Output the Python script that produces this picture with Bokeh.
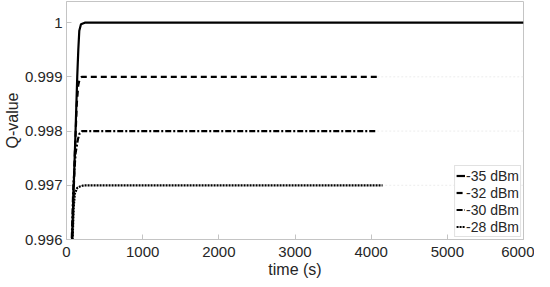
from bokeh.plotting import figure
from bokeh.models import Range1d, Legend, LegendItem, FixedTicker
from bokeh.embed import file_html
from bokeh.resources import INLINE

# ---- data ----
t_35 = [65, 73, 100, 119, 141, 155, 168, 190, 240, 6000]
q_35 = [0.99565, 0.996, 0.9972, 0.998, 0.999, 0.9995, 0.99985, 0.99997, 1.0, 1.0]

t_32 = [65, 80, 110, 135, 155, 175, 200, 4080]
q_32 = [0.9955, 0.9962, 0.9976, 0.9985, 0.99885, 0.99897, 0.999, 0.999]

t_30 = [65, 90, 120, 150, 170, 205, 4080]
q_30 = [0.9958, 0.9970, 0.9976, 0.99785, 0.99795, 0.998, 0.998]

t_28 = [80, 95, 110, 140, 180, 230, 4150]
q_28 = [0.996, 0.9966, 0.99685, 0.99695, 0.99698, 0.997, 0.997]

# faint continuations visible after the broken lines end
t_ghost = [4080, 6000]
q_ghost_32 = [0.999, 0.999]
q_ghost_30 = [0.998, 0.998]
q_ghost_28 = [0.997, 0.997]

labels = ["-35 dBm", "-32 dBm", "-30 dBm", "-28 dBm"]
x_ticks = [0, 1000, 2000, 3000, 4000, 5000, 6000]
y_ticks = [0.996, 0.997, 0.998, 0.999, 1.0]

FONT = "Liberation Sans"
GRAY = "#c4c4c4"
TXT = "#262626"

p = figure(width=534, height=280, output_backend="svg", toolbar_location=None,
           x_range=Range1d(0, 6000), y_range=Range1d(0.996, 1.00039),
           min_border_left=50, min_border_right=11, min_border_top=1, min_border_bottom=30)

p.outline_line_color = GRAY
p.xgrid.visible = False
p.ygrid.visible = False
p.background_fill_color = "white"

for ax in (p.xaxis[0], p.yaxis[0]):
    ax.axis_line_color = GRAY
    ax.major_tick_line_color = GRAY
    ax.major_tick_in = 5
    ax.major_tick_out = 0
    ax.minor_tick_line_color = None
    ax.major_label_text_font = FONT
    ax.major_label_text_font_size = "15px"
    ax.major_label_text_color = TXT
    ax.axis_label_text_font = FONT
    ax.axis_label_text_font_size = "16px"
    ax.axis_label_text_font_style = "normal"
    ax.axis_label_text_color = TXT

p.xaxis[0].ticker = FixedTicker(ticks=x_ticks)
p.yaxis[0].ticker = FixedTicker(ticks=y_ticks)
p.xaxis[0].major_label_overrides = {v: str(v) for v in x_ticks}
p.yaxis[0].major_label_overrides = {0.996: "0.996", 0.997: "0.997", 0.998: "0.998", 0.999: "0.999", 1.0: "1"}
p.xaxis[0].axis_label = "time (s)"
p.yaxis[0].axis_label = "Q-value"
p.xaxis[0].major_label_standoff = 7
p.xaxis[0].axis_label_standoff = 1
p.yaxis[0].major_label_standoff = 4
p.yaxis[0].axis_label_standoff = 1

for q in (q_ghost_32, q_ghost_30, q_ghost_28):
    p.line(t_ghost, q, line_color="#ececec", line_width=1, line_dash="2 2")

r35 = p.line(t_35, q_35, line_color="black", line_width=2.2)
r32 = p.line(t_32, q_32, line_color="black", line_width=2.2, line_dash="6 4")
r30 = p.line(t_30, q_30, line_color="black", line_width=2.2, line_dash="6 2 2 2")
r28 = p.line(t_28, q_28, line_color="black", line_width=2.2, line_dash="2 1")

legend = Legend(items=[LegendItem(label=l, renderers=[r]) for l, r in zip(labels, [r35, r32, r30, r28])],
                location="bottom_right")
legend.label_text_font = FONT
legend.label_text_font_size = "14px"
legend.label_text_color = TXT
legend.label_height = 17
legend.glyph_height = 17
legend.glyph_width = 9
legend.label_standoff = 1
legend.spacing = 0
legend.padding = 1
legend.margin = 2
legend.border_line_color = GRAY
legend.background_fill_alpha = 1.0
p.add_layout(legend)

open("out.html", "w").write(file_html(p, INLINE))
